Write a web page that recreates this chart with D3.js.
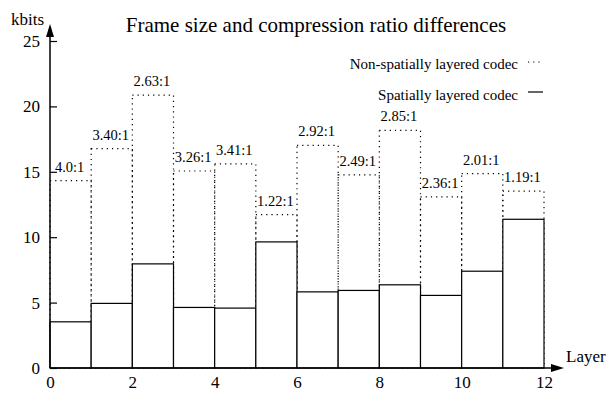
<!DOCTYPE html>
<html>
<head>
<meta charset="utf-8">
<script src="https://cdn.jsdelivr.net/npm/d3@7"></script>
<style>
  body { margin: 0; background: #fff; }
  text { font-family: "Liberation Serif", "DejaVu Serif", serif; fill: #000; }
</style>
</head>
<body>
<div id="chart"></div>
<script>
// -----------------------------------------------------------------------
//  data
// -----------------------------------------------------------------------
let layers = [0, 1, 2, 3, 4, 5, 6, 7, 8, 9, 10, 11];
let nonSpatial = [14.33, 16.77, 20.86, 15.06, 15.6, 11.73, 17.02, 14.76, 18.17, 13.08, 14.86, 13.53];
let spatial = [3.53, 4.94, 7.96, 4.63, 4.58, 9.64, 5.82, 5.93, 6.36, 5.55, 7.40, 11.37];
let ratios = ["4.0:1", "3.40:1", "2.63:1", "3.26:1", "3.41:1", "1.22:1", "2.92:1", "2.49:1", "2.85:1", "2.36:1", "2.01:1", "1.19:1"];
let xTicks = [0, 2, 4, 6, 8, 10, 12];
let yTicks = [0, 5, 10, 15, 20, 25];

let width = 606, height = 394;

let x_scale = d3.scaleLinear().domain([0, 12]).range([50, 544]);
let y_scale = d3.scaleLinear().domain([0, 25]).range([368, 41]);

const svg = d3.select("#chart").append("svg")
    .attr("width", width)
    .attr("height", height);

// title
svg.append("text")
    .attr("x", 316).attr("y", 32)
    .attr("text-anchor", "middle")
    .style("font-size", "21px")
    .text("Frame size and compression ratio differences");

// dotted bars (non-spatially layered), drawn first
svg.selectAll(".dotted")
    .data(layers)
    .enter().append("rect")
    .attr("class", "dotted")
    .attr("x", d => x_scale(d))
    .attr("y", (d, i) => y_scale(nonSpatial[i]))
    .attr("width", d => x_scale(d + 1) - x_scale(d))
    .attr("height", (d, i) => y_scale(0) - y_scale(nonSpatial[i]))
    .attr("fill", "none")
    .attr("stroke", "#000")
    .attr("stroke-width", 1.2)
    .attr("stroke-dasharray", "1.2,4");

// solid bars (spatially layered)
svg.selectAll(".solid")
    .data(layers)
    .enter().append("rect")
    .attr("class", "solid")
    .attr("x", d => x_scale(d))
    .attr("y", (d, i) => y_scale(spatial[i]))
    .attr("width", d => x_scale(d + 1) - x_scale(d))
    .attr("height", (d, i) => y_scale(0) - y_scale(spatial[i]))
    .attr("fill", "#fff")
    .attr("stroke", "#000")
    .attr("stroke-width", 1.2);

// ratio labels over the dotted bars
svg.selectAll(".ratio")
    .data(layers)
    .enter().append("text")
    .attr("class", "ratio")
    .attr("x", d => x_scale(d + 0.5) - 1)
    .attr("y", (d, i) => y_scale(nonSpatial[i]) - 9)
    .attr("text-anchor", "middle")
    .style("font-size", "14.5px")
    .text((d, i) => ratios[i]);

// axes
const x_axis = svg.append("g")
    .attr("transform", `translate(0,${y_scale(0)})`)
    .call(d3.axisBottom(x_scale).tickValues(xTicks).tickSize(0).tickPadding(8));
x_axis.select(".domain").remove();
x_axis.selectAll("text")
    .style("font-size", "17px")
    .attr("font-family", null);

const y_axis = svg.append("g")
    .attr("transform", `translate(${x_scale(0)},0)`)
    .call(d3.axisRight(y_scale).tickValues(yTicks).tickSize(7).tickFormat(""));
y_axis.select(".domain").remove();
y_axis.selectAll("line").attr("stroke-width", 1.2);

svg.selectAll(".ylab")
    .data(yTicks)
    .enter().append("text")
    .attr("class", "ylab")
    .attr("x", 40)
    .attr("y", d => y_scale(d))
    .attr("dy", "0.35em")
    .attr("text-anchor", "end")
    .style("font-size", "17px")
    .text(d => d);

// axis lines with arrows
svg.append("line")
    .attr("x1", x_scale(0)).attr("y1", y_scale(0))
    .attr("x2", x_scale(0)).attr("y2", 36)
    .attr("stroke", "#000").attr("stroke-width", 1.5);
svg.append("path")
    .attr("d", `M${x_scale(0)},24 L${x_scale(0) - 4},37 L${x_scale(0) + 4},37 Z`)
    .attr("fill", "#000");

svg.append("line")
    .attr("x1", x_scale(0)).attr("y1", y_scale(0))
    .attr("x2", 552).attr("y2", y_scale(0))
    .attr("stroke", "#000").attr("stroke-width", 1.5);
svg.append("path")
    .attr("d", `M564,${y_scale(0)} L551,${y_scale(0) - 4} L551,${y_scale(0) + 4} Z`)
    .attr("fill", "#000");

// axis titles
svg.append("text")
    .attr("x", 11).attr("y", 25)
    .style("font-size", "17px")
    .text("kbits");
svg.append("text")
    .attr("x", 566).attr("y", 362)
    .style("font-size", "17px")
    .text("Layer");

// legend
svg.append("text")
    .attr("x", 518).attr("y", 69)
    .attr("text-anchor", "end")
    .style("font-size", "15px")
    .text("Non-spatially layered codec");
svg.append("line")
    .attr("x1", 528).attr("y1", 62).attr("x2", 543).attr("y2", 62)
    .attr("stroke", "#000").attr("stroke-width", 1.2)
    .attr("stroke-dasharray", "1.2,4");
svg.append("text")
    .attr("x", 518).attr("y", 100)
    .attr("text-anchor", "end")
    .style("font-size", "15px")
    .text("Spatially layered codec");
svg.append("line")
    .attr("x1", 528).attr("y1", 92).attr("x2", 543).attr("y2", 92)
    .attr("stroke", "#000").attr("stroke-width", 1.2);
</script>
</body>
</html>
